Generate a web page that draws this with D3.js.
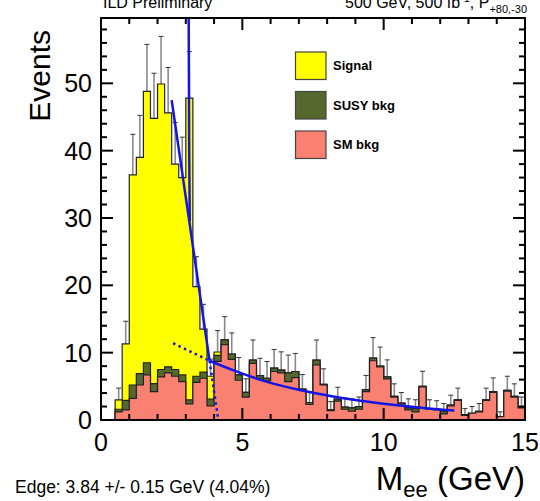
<!DOCTYPE html>
<html>
<head>
<meta charset="utf-8">
<script src="https://cdn.jsdelivr.net/npm/d3@7"></script>
<style>
  body { margin: 0; background: white; }
  svg { font-family: "Liberation Sans", Arial, Helvetica, sans-serif; }
</style>
</head>
<body>
<div id="chart"></div>
<script>
// histogram: 60 bins of 0.25 GeV from 0 to 15
var binWidth = 0.25;
var smBkg = [0, 0, 1.2, 1.5, 3.2, 5.2, 6.7, 4.2, 6.4, 7.0, 6.5, 5.7, 2.4, 5.6, 6.2, 2.1,
             8.7, 11.2, 9.0, 5.9, 3.4, 8.4, 6.2, 5.8, 7.2, 7.0, 5.7, 6.3, 4.4, 2.3,
             8.2, 5.2, 1.4, 2.8, 1.6, 1.3, 1.6, 4.2, 8.8, 7.9, 6.1, 3.4, 2.4, 1.5, 1.2,
             4.9, 1.6, 1.5, 0.9, 2.1, 2.9, 0.7, 1.0, 1.2, 2.9, 4.1, 0.5, 4.3, 3.4, 1.8];
var susyBkg = [0, 0, 0.4, 1.4, 2.0, 1.7, 1.8, 1.2, 1.1, 0.9, 1.0, 1.0, 0.6, 0.9, 0.9, 1.0,
               0.9, 0.7, 0.8, 0.8, 0.7, 0.5, 0.4, 0.4, 0.5, 0.4, 1.3, 0.9, 0.2, 0.3,
               0.7, 0.1, 0.1, 0.3, 0.3, 0.5, 0.4, 0.3, 0.4, 0.1, 0.3, 0.1, 0.1, 0.3, 0.5,
               0.1, 0.1, 0.1, 0.4, 0.1, 0.1, 0.1, 0.0, 0.1, 0.1, 0.1, 0.0, 0.1, 0.1, 0.2];
var signal = [0, 0, 1.4, 8.4, 31.2, 32.1, 40.3, 39.4, 42.4, 37.7, 30.5, 29.3, 44.8, 13.3, 6.4, 3.4,
              0.5, 0, 0, 0, 0, 0, 0, 0, 0, 0, 0, 0, 0, 0,
              0, 0, 0, 0, 0, 0, 0, 0, 0, 0, 0, 0, 0, 0, 0,
              0, 0, 0, 0, 0, 0, 0, 0, 0, 0, 0, 0, 0, 0, 0];

// fit curves
var edgeFitM = [2.5, 3.84];
var edgeFitE = [47.5, 8.8];
var edgeExtM = [3.84, 4.15];
var edgeExtE = [8.8, 0];
var spikeM = [3.10, 3.12, 3.14];
var spikeE = [62, 40, 29.5];
var bkgFitM = [3.84, 4.67, 5.85, 7.03, 8.21, 9.39, 10.57, 11.5, 12.5];
var bkgFitE = [8.8, 7.4, 5.7, 4.46, 3.5, 2.75, 2.15, 1.75, 1.4];
var bkgExtM = [2.55, 3.84];
var bkgExtE = [11.4, 8.8];

var xTicks = [0, 5, 10, 15];
var yTicks = [0, 10, 20, 30, 40, 50];
var legendLabels = ["Signal", "SUSY bkg", "SM bkg"];
var legendColors = ["#ffff00", "#55692f", "#fa8072"];

var W = 540, H = 501;
var svg = d3.select("#chart").append("svg").attr("width", W).attr("height", H);

var x = d3.scaleLinear().domain([0, 15]).range([101, 525]);
var y = d3.scaleLinear().domain([0, 59.7]).range([420, 18]);

svg.append("clipPath").attr("id", "frame")
  .append("rect").attr("x", 101).attr("y", 18).attr("width", 424).attr("height", 402);

var g = svg.append("g").attr("clip-path", "url(#frame)");

// cumulative layers, drawn back to front
var layerSM = smBkg.slice();
var layerSusy = smBkg.map(function(v, i) { return v + susyBkg[i]; });
var layerTot = layerSusy.map(function(v, i) { return v + signal[i]; });

function stepPoints(vals) {
  var pts = [];
  vals.forEach(function(v, i) {
    pts.push([i * binWidth, v]);
    pts.push([(i + 1) * binWidth, v]);
  });
  return pts;
}

var area = d3.area().x(function(d) { return x(d[0]); })
  .y0(y(0)).y1(function(d) { return y(d[1]); });
var line = d3.line().x(function(d) { return x(d[0]); }).y(function(d) { return y(d[1]); });

// error bars on the total (only the upper half shows above the stack)
var errG = g.append("g");
layerTot.forEach(function(v, i) {
  if (v <= 0) return;
  var xc = x((i + 0.5) * binWidth);
  var top = y(v + Math.sqrt(v));
  errG.append("line").attr("x1", xc).attr("x2", xc)
    .attr("y1", y(v)).attr("y2", top)
    .attr("stroke", "#8a8a8a").attr("stroke-width", 1.6);
  errG.append("line").attr("x1", xc - 2.5).attr("x2", xc + 2.5)
    .attr("y1", top).attr("y2", top)
    .attr("stroke", "#333").attr("stroke-width", 1);
});

[[layerTot, legendColors[0]], [layerSusy, legendColors[1]], [layerSM, legendColors[2]]].forEach(function(l) {
  var pts = stepPoints(l[0]);
  g.append("path").attr("d", area(pts)).attr("fill", l[1]);
  g.append("path").attr("d", line(pts)).attr("fill", "none")
    .attr("stroke", "#222").attr("stroke-width", 1.2);
});

// fit lines
function fitPath(ms, es, dashed, curve) {
  var pts = ms.map(function(m, i) { return [m, es[i]]; });
  var l = d3.line().x(function(d) { return x(d[0]); }).y(function(d) { return y(d[1]); });
  if (curve) l.curve(d3.curveMonotoneX);
  g.append("path").attr("d", l(pts)).attr("fill", "none")
    .attr("stroke", "#1414e6").attr("stroke-width", 2.5)
    .attr("stroke-dasharray", dashed ? "2.5,3.5" : null);
}
fitPath(bkgExtM, bkgExtE, true, false);
fitPath(edgeExtM, edgeExtE, true, false);
fitPath(edgeFitM, edgeFitE, false, false);
fitPath(spikeM, spikeE, false, false);
fitPath(bkgFitM, bkgFitE, false, true);

// frame and ticks on all four sides
var ax = svg.append("g").attr("stroke", "black").attr("stroke-width", 2);
d3.range(0, 16, 1).forEach(function(v) {
  var len = (v % 5 === 0) ? 12 : 6;
  ax.append("line").attr("x1", x(v)).attr("x2", x(v)).attr("y1", 420).attr("y2", 420 - len);
  ax.append("line").attr("x1", x(v)).attr("x2", x(v)).attr("y1", 18).attr("y2", 18 + len);
});
d3.range(0, 60, 2).forEach(function(v) {
  var len = (v % 10 === 0) ? 12 : 6;
  ax.append("line").attr("x1", 101).attr("x2", 101 + len).attr("y1", y(v)).attr("y2", y(v));
  ax.append("line").attr("x1", 525).attr("x2", 525 - len).attr("y1", y(v)).attr("y2", y(v));
});
svg.append("rect").attr("x", 101).attr("y", 18).attr("width", 424).attr("height", 402)
  .attr("fill", "none").attr("stroke", "black").attr("stroke-width", 2);

// tick labels
svg.selectAll(".xl").data(xTicks).enter().append("text")
  .attr("x", function(d) { return x(d); }).attr("y", 451)
  .attr("text-anchor", "middle").attr("font-size", 25).text(function(d) { return d; });
svg.selectAll(".yl").data(yTicks).enter().append("text")
  .attr("x", 92).attr("y", function(d) { return y(d) + 9; })
  .attr("text-anchor", "end").attr("font-size", 25).text(function(d) { return d; });

// axis titles
svg.append("text").attr("transform", "translate(50,30) rotate(-90)")
  .attr("text-anchor", "end").attr("font-size", 30).text("Events");
var xt = svg.append("text").attr("x", 525).attr("y", 490).attr("text-anchor", "end").attr("font-size", 33);
xt.append("tspan").text("M");
xt.append("tspan").attr("font-size", 22).attr("dy", 7).text("ee");
xt.append("tspan").attr("dy", -7).text(" (GeV)");

// header texts (cut by the top edge, as in the original)
svg.append("text").attr("x", 103).attr("y", 8).attr("font-size", 16).text("ILD Preliminary");
var hd = svg.append("text").attr("x", 345).attr("y", 8).attr("font-size", 16);
hd.append("tspan").text("500 GeV, 500 fb");
hd.append("tspan").attr("font-size", 11).attr("dy", -6).text("-1");
hd.append("tspan").attr("dy", 6).text(", P");
hd.append("tspan").attr("font-size", 11).attr("dy", 5).text("+80,-30");

svg.append("text").attr("x", 15).attr("y", 493).attr("font-size", 17.5)
  .text("Edge: 3.84 +/- 0.15 GeV (4.04%)");

// legend
var lg = svg.append("g");
legendLabels.forEach(function(lab, i) {
  var yy = 52 + i * 39.5;
  lg.append("rect").attr("x", 295.5).attr("y", yy).attr("width", 30.5).attr("height", 27.5)
    .attr("fill", legendColors[i]).attr("stroke", "#444").attr("stroke-width", 1.2);
  lg.append("text").attr("x", 333).attr("y", yy + 18).attr("font-size", 13)
    .attr("font-weight", "bold").text(lab);
});
</script>
</body>
</html>
